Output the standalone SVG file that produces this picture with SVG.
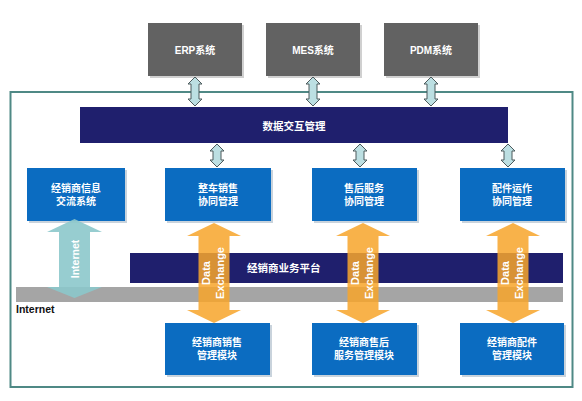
<svg xmlns="http://www.w3.org/2000/svg" width="582" height="401" viewBox="0 0 582 401">
<style>
text{font-family:"Liberation Sans","Noto Sans CJK SC",sans-serif;fill:#fff;font-weight:bold;}
.sys{fill:#626262;}
.blue{fill:#0b6cc1;}
.shadow{fill:#c9d3dc;}
.navy{fill:#1f1f6d;}
.t10{font-size:10px;}
.t11{font-size:10.5px;}
.sm{fill:#bcdfe2;stroke:#4d5a5c;stroke-width:1;}
.org{fill:#f7a52c;opacity:0.86;}
.tea{fill:#8cc8cb;opacity:0.9;}
</style>
<defs>
<path id="oa" d="M0,0 L27,13 L15.5,13 L15.5,87 L27,87 L0,100 L-27,87 L-15.5,87 L-15.5,13 L-27,13 Z"/>
</defs>
<rect width="582" height="401" fill="#fff"/>
<rect x="10.5" y="92" width="562" height="295" fill="none" stroke="#4f8985" stroke-width="2"/>

<g id="erp"><rect x="150" y="25" width="94" height="53" fill="#d0d0d0"/><rect class="sys" x="148" y="23" width="94" height="53"/><text class="t10" x="195" y="53.5" text-anchor="middle">ERP系统</text></g>
<g id="mes"><rect x="268" y="25" width="94" height="53" fill="#d0d0d0"/><rect class="sys" x="266" y="23" width="94" height="53"/><text class="t10" x="313" y="53.5" text-anchor="middle">MES系统</text></g>
<g id="pdm"><rect x="386" y="25" width="94" height="53" fill="#d0d0d0"/><rect class="sys" x="384" y="23" width="94" height="53"/><text class="t10" x="431" y="53.5" text-anchor="middle">PDM系统</text></g>

<g id="data-mgmt"><rect class="navy" x="80" y="107" width="428" height="36"/><text class="t11" x="294" y="129.5" text-anchor="middle">数据交互管理</text></g>

<g id="dealer-platform"><rect class="navy" x="130" y="253" width="433" height="30"/><text class="t11" x="247" y="272">经销商业务平台</text></g>
<g id="internet-bar"><rect x="16" y="287" width="547" height="15" fill="#a5a5a5"/><text x="16" y="313" font-size="10.5px" style="fill:#111">Internet</text></g>

<g id="info"><rect class="shadow" x="29" y="170" width="98" height="53"/><rect class="blue" x="27" y="168" width="98" height="53"/><text class="t10" x="76" y="192" text-anchor="middle">经销商信息</text><text class="t10" x="76" y="205" text-anchor="middle">交流系统</text></g>
<g id="sales"><rect class="shadow" x="167" y="170" width="106" height="53"/><rect class="blue" x="165" y="168" width="106" height="53"/><text class="t10" x="218" y="192" text-anchor="middle">整车销售</text><text class="t10" x="218" y="205" text-anchor="middle">协同管理</text></g>
<g id="service"><rect class="shadow" x="314" y="170" width="105" height="53"/><rect class="blue" x="312" y="168" width="105" height="53"/><text class="t10" x="364" y="192" text-anchor="middle">售后服务</text><text class="t10" x="364" y="205" text-anchor="middle">协同管理</text></g>
<g id="parts"><rect class="shadow" x="462" y="170" width="105" height="53"/><rect class="blue" x="460" y="168" width="105" height="53"/><text class="t10" x="512" y="192" text-anchor="middle">配件运作</text><text class="t10" x="512" y="205" text-anchor="middle">协同管理</text></g>

<g id="dealer-sales"><rect class="shadow" x="167" y="325" width="105" height="52"/><rect class="blue" x="165" y="323" width="105" height="52"/><text class="t10" x="217" y="346" text-anchor="middle">经销商销售</text><text class="t10" x="217" y="359" text-anchor="middle">管理模块</text></g>
<g id="dealer-service"><rect class="shadow" x="314" y="325" width="105" height="52"/><rect class="blue" x="312" y="323" width="105" height="52"/><text class="t10" x="364" y="346" text-anchor="middle">经销商售后</text><text class="t10" x="364" y="359" text-anchor="middle">服务管理模块</text></g>
<g id="dealer-parts"><rect class="shadow" x="462" y="325" width="104" height="52"/><rect class="blue" x="460" y="323" width="104" height="52"/><text class="t10" x="512" y="346" text-anchor="middle">经销商配件</text><text class="t10" x="512" y="359" text-anchor="middle">管理模块</text></g>

<g id="connectors">
<path class="sm" d="M195,77 L202,84 L199,84 L199,99 L202,99 L195,106 L188,99 L191,99 L191,84 L188,84 Z"/>
<path class="sm" d="M313,77 L320,84 L317,84 L317,99 L320,99 L313,106 L306,99 L309,99 L309,84 L306,84 Z"/>
<path class="sm" d="M431,77 L438,84 L435,84 L435,99 L438,99 L431,106 L424,99 L427,99 L427,84 L424,84 Z"/>
<path class="sm" d="M217,144 L224,151 L221,151 L221,160 L224,160 L217,167 L210,160 L213,160 L213,151 L210,151 Z"/>
<path class="sm" d="M360,144 L367,151 L364,151 L364,160 L367,160 L360,167 L353,160 L356,160 L356,151 L353,151 Z"/>
<path class="sm" d="M508,144 L515,151 L512,151 L512,160 L515,160 L508,167 L501,160 L504,160 L504,151 L501,151 Z"/>

<path class="tea" d="M74.5,219 L102,232 L90,232 L90,287 L102,287 L74.5,298 L47,287 L59,287 L59,232 L47,232 Z"/>
<text font-size="10.5px" transform="translate(78.5,259) rotate(-90)" text-anchor="middle">Internet</text>

<use href="#oa" class="org" x="214" y="223"/>
<use href="#oa" class="org" x="363" y="223"/>
<use href="#oa" class="org" x="513" y="223"/>
<text font-size="11px" transform="translate(210,273) rotate(-90)" text-anchor="middle">Data</text>
<text font-size="11px" transform="translate(224,273) rotate(-90)" text-anchor="middle">Exchange</text>
<text font-size="11px" transform="translate(359,273) rotate(-90)" text-anchor="middle">Data</text>
<text font-size="11px" transform="translate(373,273) rotate(-90)" text-anchor="middle">Exchange</text>
<text font-size="11px" transform="translate(509,273) rotate(-90)" text-anchor="middle">Data</text>
<text font-size="11px" transform="translate(523,273) rotate(-90)" text-anchor="middle">Exchange</text>
</g>
</svg>
